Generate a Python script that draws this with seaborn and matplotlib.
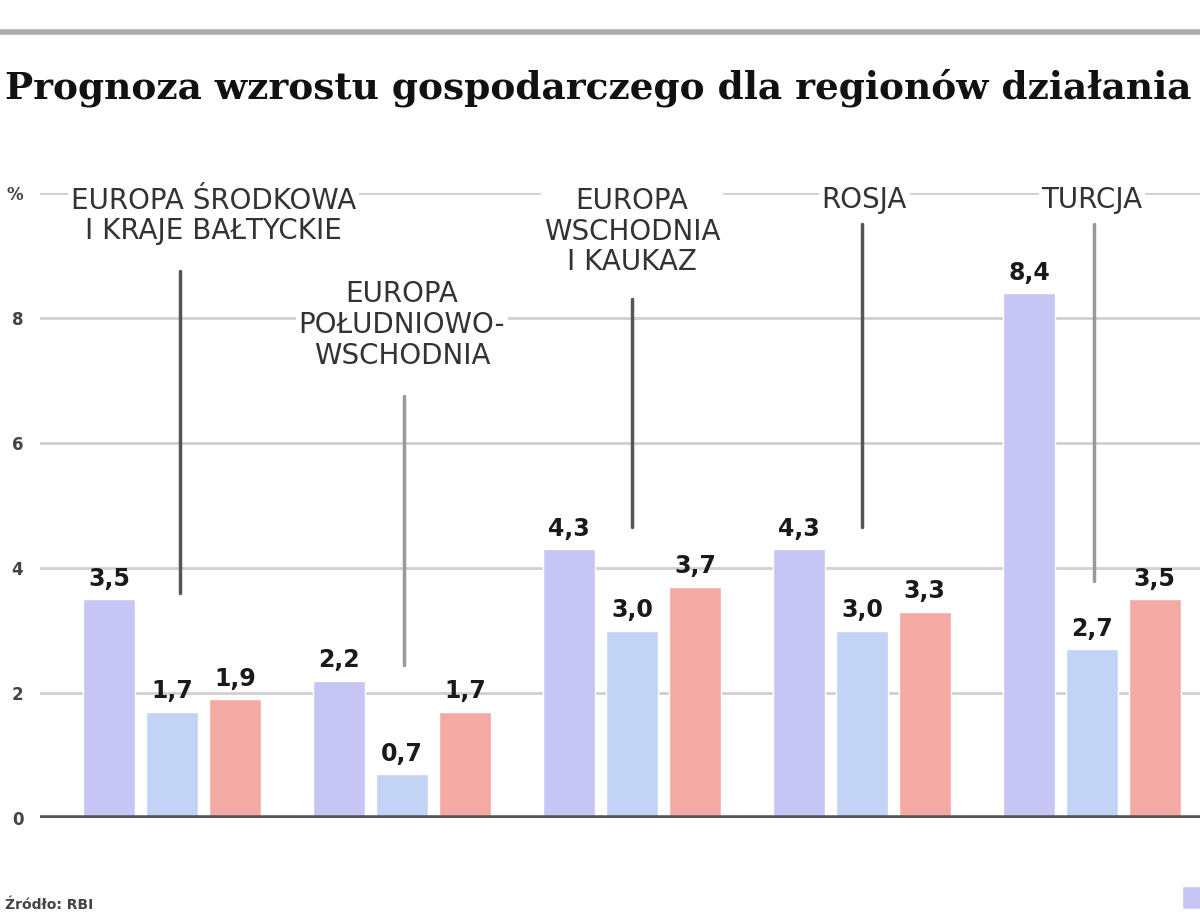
import matplotlib
matplotlib.use("Agg")
import matplotlib.pyplot as plt
import seaborn as sns
import pandas as pd
from matplotlib.patches import Patch

regions = ["EUROPA ŚRODKOWA\nI KRAJE BAŁTYCKIE", "EUROPA\nPOŁUDNIOWO-\nWSCHODNIA",
           "EUROPA\nWSCHODNIA\nI KAUKAZ", "ROSJA", "TURCJA"]
series_names = ["2010", "2011", "2012"]
s1 = [3.5, 2.2, 4.3, 4.3, 8.4]
s2 = [1.7, 0.7, 3.0, 3.0, 2.7]
s3 = [1.9, 1.7, 3.7, 3.3, 3.5]
ytick_vals = [0, 2, 4, 6, 8, 10]
ytick_labels = ["0", "2", "4", "6", "8", "%"]
title = "Prognoza wzrostu gospodarczego dla regionów działania"
source = "Źródło: RBI"

colors = ["#c6c5f4", "#c3d3f6", "#f4a9a3"]

rows = []
for name, vals in zip(series_names, [s1, s2, s3]):
    for r, v in zip(regions, vals):
        rows.append({"region": r, "seria": name, "wartosc": v})
df = pd.DataFrame(rows)

sns.set_theme(style="white")
plt.rcParams['font.family'] = ['DejaVu Sans']

fig = plt.figure(figsize=(12, 9.23), dpi=100)
ax = fig.add_axes([40/1200, 105/923, 1 - 40/1200, (818 - 193)/923])

sns.barplot(data=df, x="region", y="wartosc", hue="seria", palette=colors,
            order=regions, hue_order=series_names, width=0.82, gap=0.18,
            ax=ax, legend=False, saturation=1)

ax.set_xlim(-0.574, 4.47)
ax.set_ylim(0, 10)
ax.set_yticks(ytick_vals)
ax.set_yticklabels(ytick_labels, fontsize=12, color="#444444", fontweight="bold")
ax.tick_params(axis="y", length=5, width=1.5, color="#999999", pad=7)
ax.set_xticks([])
ax.set_xlabel("")
ax.set_ylabel("")
for sp in ax.spines.values():
    sp.set_visible(False)
ax.yaxis.grid(True, color="#d0d0d0", lw=2)
ax.set_axisbelow(True)
ax.axhline(0, color="#555555", lw=4, zorder=5)

# value labels
for cont in ax.containers:
    labels = [f"{b.get_height():.1f}".replace(".", ",") for b in cont]
    ax.bar_label(cont, labels=labels, padding=6, fontsize=17, fontweight="bold",
                 color="#1a1a1a")

# region labels and leader lines
label_x = [0.18, 0.0, 0.0, 0.01, 0.0]
label_y = [9.63, 7.89, 9.38, 9.89, 9.89]
line_x = [0.035, 0.01, 0.0, 0.0, 0.01]
line_top = [8.75, 6.75, 8.3, 9.5, 9.5]
line_bot = [3.6, 2.45, 4.65, 4.65, 3.8]
line_col = ["#555555", "#999999", "#555555", "#555555", "#999999"]
for i, r in enumerate(regions):
    ax.text(i + label_x[i], label_y[i], r, ha="center", va="center",
            multialignment="center", fontsize=20, color="#333333", linespacing=1.12,
            bbox=dict(facecolor="white", edgecolor="none", pad=2), zorder=6)
    ax.plot([i + line_x[i], i + line_x[i]], [line_top[i], line_bot[i]],
            color=line_col[i], lw=2.5, zorder=4)

# top line & title
fig.add_artist(plt.Line2D([0, 1], [1 - 32/923, 1 - 32/923], color="#aaaaaa", lw=4))
fig.text(0.004, 1 - 88/923, title, ha="left", va="center", fontsize=27,
         fontweight="bold", family="DejaVu Serif", color="#111111")
fig.text(0.004, 1 - 905/923, source, ha="left", va="center", fontsize=10,
         color="#444444", fontweight="bold")

handles = [Patch(facecolor=colors[0])]
fig.legend(handles, [""], loc="lower left", bbox_to_anchor=(1168/1200, 0.0),
           frameon=False, fontsize=11, handlelength=2.5, handleheight=2)

fig.savefig("out.png", dpi=100)
